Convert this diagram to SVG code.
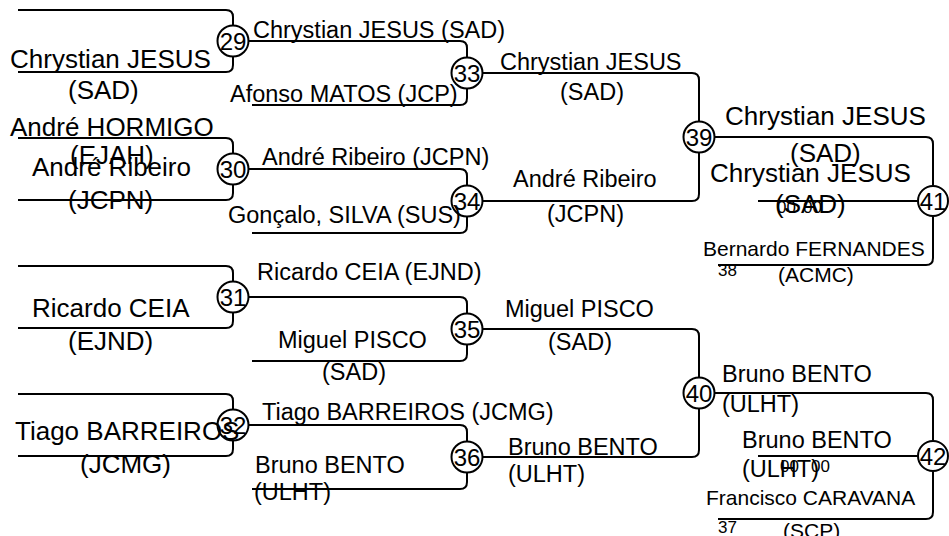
<svg xmlns="http://www.w3.org/2000/svg" width="949" height="536" viewBox="0 0 949 536">
<style>
text{font-family:"Liberation Sans",Arial,sans-serif;fill:#000}
.ln{fill:none;stroke:#000;stroke-width:2}
.c{fill:none;stroke:#000;stroke-width:2}
.n{font-size:24px;text-anchor:middle}
.a{font-size:26px}
.b{font-size:23.5px}
.d{font-size:21px}
.s{font-size:17px}
</style>
<rect width="949" height="536" fill="#fff"/>
<g id="connectors">
<path class="ln" d="M18,10 H226 Q233,10 233,17 V25.5"/>
<path class="ln" d="M18,72 H226 Q233,72 233,65 V56.5"/>
<path class="ln" d="M18,138 H226 Q233,138 233,145 V153.5"/>
<path class="ln" d="M18,200 H226 Q233,200 233,193 V184.5"/>
<path class="ln" d="M18,266 H226 Q233,266 233,273 V281.5"/>
<path class="ln" d="M18,328 H226 Q233,328 233,321 V312.5"/>
<path class="ln" d="M18,394 H226 Q233,394 233,401 V409.5"/>
<path class="ln" d="M18,456 H226 Q233,456 233,449 V440.5"/>
<path class="ln" d="M248.5,41 H460 Q467,41 467,48 V57.5"/>
<path class="ln" d="M252,105 H460 Q467,105 467,98 V88.5"/>
<path class="ln" d="M248.5,169 H460 Q467,169 467,176 V185.5"/>
<path class="ln" d="M252,233 H460 Q467,233 467,226 V216.5"/>
<path class="ln" d="M248.5,297 H460 Q467,297 467,304 V313.5"/>
<path class="ln" d="M252,361 H460 Q467,361 467,354 V344.5"/>
<path class="ln" d="M248.5,425 H460 Q467,425 467,432 V441.5"/>
<path class="ln" d="M252,489 H460 Q467,489 467,482 V472.5"/>
<path class="ln" d="M482.5,73 H692 Q699,73 699,80 V121.5"/>
<path class="ln" d="M482.5,201 H692 Q699,201 699,194 V152.5"/>
<path class="ln" d="M482.5,329 H692 Q699,329 699,336 V377.5"/>
<path class="ln" d="M482.5,457 H692 Q699,457 699,450 V408.5"/>
<path class="ln" d="M714.5,137 H926 Q933,137 933,144 V185.5"/>
<path class="ln" d="M718,265 H926 Q933,265 933,258 V216.5"/>
<path class="ln" d="M758,201 H917.5"/>
<path class="ln" d="M714.5,393 H926 Q933,393 933,400 V440.5"/>
<path class="ln" d="M718,519 H926 Q933,519 933,512 V471.5"/>
<path class="ln" d="M758,456 H917.5"/>
</g>
<g id="r1-labels">
<text class="a" x="10" y="68">Chrystian JESUS</text>
<text class="a" x="68" y="99">(SAD)</text>
<text class="a" x="10" y="136">André HORMIGO</text>
<text class="a" x="70" y="164">(EJAH)</text>
<text class="a" x="32" y="176">André Ribeiro</text>
<text class="a" x="68" y="209">(JCPN)</text>
<text class="a" x="32" y="317">Ricardo CEIA</text>
<text class="a" x="68" y="350">(EJND)</text>
<text class="a" x="15" y="440">Tiago BARREIROS</text>
<text class="a" x="80" y="473">(JCMG)</text>
</g>
<g id="r2-labels">
<text class="b" x="253" y="38">Chrystian JESUS (SAD)</text>
<text class="b" x="230" y="102">Afonso MATOS (JCP)</text>
<text class="b" x="262" y="165">André Ribeiro (JCPN)</text>
<text class="b" x="228" y="223">Gonçalo, SILVA (SUS)</text>
<text class="b" x="257" y="280">Ricardo CEIA (EJND)</text>
<text class="b" x="278" y="348">Miguel PISCO</text>
<text class="b" x="322" y="380">(SAD)</text>
<text class="b" x="262" y="420">Tiago BARREIROS (JCMG)</text>
<text class="b" x="255" y="473">Bruno BENTO</text>
<text class="b" x="254" y="500">(ULHT)</text>
</g>
<g id="r3-labels">
<text class="b" x="500" y="70">Chrystian JESUS</text>
<text class="b" x="560" y="100">(SAD)</text>
<text class="b" x="513" y="187">André Ribeiro</text>
<text class="b" x="547" y="222">(JCPN)</text>
<text class="b" x="505" y="317">Miguel PISCO</text>
<text class="b" x="548" y="350">(SAD)</text>
<text class="b" x="508" y="455">Bruno BENTO</text>
<text class="b" x="508" y="482">(ULHT)</text>
</g>
<g id="r4-labels">
<text class="a" x="725" y="125">Chrystian JESUS</text>
<text class="a" x="790" y="162">(SAD)</text>
<text class="a" x="710" y="182">Chrystian JESUS</text>
<text class="a" x="775" y="213">(SAD)</text>
<text class="s" x="777" y="213">00</text>
<text class="s" x="803" y="213">00</text>
<text class="d" x="703" y="256">Bernardo FERNANDES</text>
<text class="s" x="718" y="276">38</text>
<text class="d" x="778" y="282">(ACMC)</text>
<text class="b" x="722" y="382">Bruno BENTO</text>
<text class="b" x="722" y="412">(ULHT)</text>
<text class="b" x="742" y="448">Bruno BENTO</text>
<text class="b" x="742" y="477">(ULHT)</text>
<text class="s" x="780" y="472">00</text>
<text class="s" x="811" y="472">00</text>
<text class="d" x="706" y="505">Francisco CARAVANA</text>
<text class="s" x="718" y="533">37</text>
<text class="d" x="783" y="538">(SCP)</text>
</g>
<g id="m29"><circle class="c" cx="233" cy="41" r="15.5"/><text class="n" x="233" y="49.5">29</text></g>
<g id="m30"><circle class="c" cx="233" cy="169" r="15.5"/><text class="n" x="233" y="177.5">30</text></g>
<g id="m31"><circle class="c" cx="233" cy="297" r="15.5"/><text class="n" x="233" y="305.5">31</text></g>
<g id="m32"><circle class="c" cx="233" cy="425" r="15.5"/><text class="n" x="233" y="433.5">32</text></g>
<g id="m33"><circle class="c" cx="467" cy="73" r="15.5"/><text class="n" x="467" y="81.5">33</text></g>
<g id="m34"><circle class="c" cx="467" cy="201" r="15.5"/><text class="n" x="467" y="209.5">34</text></g>
<g id="m35"><circle class="c" cx="467" cy="329" r="15.5"/><text class="n" x="467" y="337.5">35</text></g>
<g id="m36"><circle class="c" cx="467" cy="457" r="15.5"/><text class="n" x="467" y="465.5">36</text></g>
<g id="m39"><circle class="c" cx="699" cy="137" r="15.5"/><text class="n" x="699" y="145.5">39</text></g>
<g id="m40"><circle class="c" cx="699" cy="393" r="15.5"/><text class="n" x="699" y="401.5">40</text></g>
<g id="m41"><circle class="c" cx="933" cy="201" r="15"/><text class="n" x="933" y="209.5">41</text></g>
<g id="m42"><circle class="c" cx="933" cy="456" r="15"/><text class="n" x="933" y="464.5">42</text></g>
</svg>
